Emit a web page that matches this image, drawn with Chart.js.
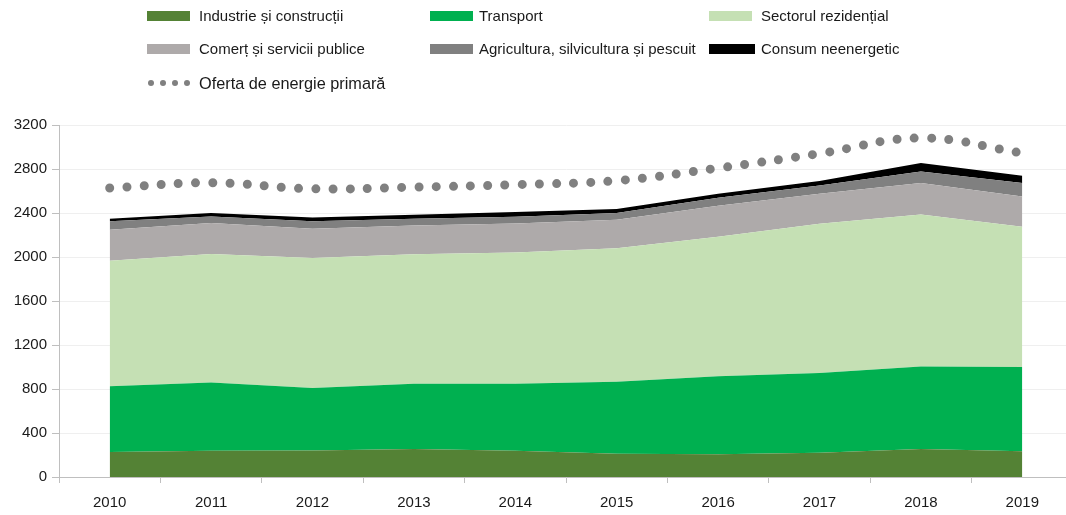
<!DOCTYPE html>
<html>
<head>
<meta charset="utf-8">
<script src="https://cdn.jsdelivr.net/npm/chart.js@4.4.1/dist/chart.umd.min.js"></script>
<style>
  html, body { margin: 0; padding: 0; background: #fff; overflow: hidden; }
  #wrap { position: relative; width: 1066px; height: 515px; overflow: hidden; }
  #chartBox { position: absolute; left: 0; top: 0; width: 1082px; height: 515px; }
  .leg { position: absolute; font-family: 'Liberation Sans', Arial, sans-serif; font-size: 15px; color: #1a1a1a; white-space: nowrap; line-height: 18px; height: 18px; }
  .sw { position: absolute; height: 10px; }
  .dot { position: absolute; width: 6px; height: 6px; border-radius: 50%; background: #808080; }
</style>
</head>
<body>
<div id="wrap">
  <div id="chartBox"><canvas id="energyChart" width="1082" height="515"></canvas></div>
  <div id="legend"></div>
</div>
<script>
// ===============================
// DATA (ktep)
// ===============================
const years = ['2010', '2011', '2012', '2013', '2014', '2015', '2016', '2017', '2018', '2019'];

const industrie   = [227, 239, 242, 254, 239, 212, 206, 221, 254, 233];
const transport   = [597, 621, 567, 594, 609, 654, 709, 724, 751, 767];
const rezidential = [1142, 1167, 1182, 1177, 1192, 1214, 1270, 1358, 1382, 1275];
const comert      = [282, 282, 266, 262, 265, 259, 281, 273, 286, 276];
const agricultura = [76, 60, 67, 61, 61, 61, 73, 75, 105, 122];
const neenergetic = [24, 31, 36, 37, 43, 36, 37, 39, 77, 66];
const oferta      = [2627, 2675, 2620, 2635, 2658, 2694, 2808, 2940, 3082, 2945];

const yTicks = [0, 400, 800, 1200, 1600, 2000, 2400, 2800, 3200];

const seriesNames = [
    'Industrie și construcții', 'Transport', 'Sectorul rezidențial',
    'Comerț și servicii publice', 'Agricultura, silvicultura și pescuit', 'Consum neenergetic'
];
const seriesColors = ['#548235', '#00b050', '#c5e0b4', '#aeaaaa', '#808080', '#000000'];
const ofertaName = 'Oferta de energie primară';

const FONT = "'Liberation Sans', Arial, sans-serif";

// ===============================
// CHART
// ===============================
const areaData = [industrie, transport, rezidential, comert, agricultura, neenergetic];

const datasets = areaData.map((vals, i) => ({
    label: seriesNames[i],
    data: vals,
    stack: 'consum',
    backgroundColor: seriesColors[i],
    borderColor: seriesColors[i],
    borderWidth: 0,
    pointRadius: 0,
    fill: i === 0 ? 'origin' : '-1',
    tension: 0
}));

datasets.push({
    label: ofertaName,
    data: oferta,
    stack: 'oferta',
    borderColor: '#808080',
    backgroundColor: '#808080',
    borderWidth: 9,
    borderDash: [0, 17.2],
    borderCapStyle: 'round',
    pointRadius: 0,
    fill: false,
    tension: 0.4
});

const ctx = document.getElementById('energyChart').getContext('2d');
const energyChart = new Chart(ctx, {
    type: 'line',
    data: { labels: years, datasets: datasets },
    options: {
        responsive: false,
        animation: false,
        layout: { padding: { top: 125, right: 9, left: 0, bottom: 0 } },
        plugins: { legend: { display: false }, tooltip: { enabled: false } },
        scales: {
            x: {
                offset: true,
                grid: { offset: true, drawOnChartArea: false, tickLength: 6, tickColor: '#bfbfbf' },
                border: { color: '#bfbfbf' },
                ticks: { color: '#1a1a1a', font: { family: FONT, size: 15 }, padding: 11, maxRotation: 0 },
                afterFit: s => { s.height = 38; }
            },
            y: {
                stacked: true,
                min: yTicks[0],
                max: yTicks[yTicks.length - 1],
                grid: { color: '#efefef', tickLength: 7, tickColor: '#bfbfbf' },
                border: { color: '#bfbfbf' },
                ticks: {
                    stepSize: yTicks[1] - yTicks[0],
                    color: '#1a1a1a',
                    font: { family: FONT, size: 15 },
                    padding: 5,
                    callback: v => String(v)
                },
                afterFit: s => { s.width = 59; }
            }
        }
    }
});

// ===============================
// LEGEND (HTML, grid like the original)
// ===============================
function buildLegend() {
    const legend = document.getElementById('legend');
    const colSwatch = [147, 430, 709];
    const colText = [199, 479, 761];
    const rowY = [16, 49, 83];
    seriesNames.forEach((name, i) => {
        const r = Math.floor(i / 3), c = i % 3;
        const sw = document.createElement('div');
        sw.className = 'sw';
        sw.style.left = colSwatch[c] + 'px';
        sw.style.top = (rowY[r] - 5) + 'px';
        sw.style.width = (i === 5 ? 46 : 43) + 'px';
        sw.style.background = seriesColors[i];
        legend.appendChild(sw);

        const t = document.createElement('div');
        t.className = 'leg';
        t.style.left = colText[c] + 'px';
        t.style.top = (rowY[r] - 9) + 'px';
        t.textContent = name;
        legend.appendChild(t);
    });
    // dotted line sample
    for (let k = 0; k < 4; k++) {
        const d = document.createElement('div');
        d.className = 'dot';
        d.style.left = (148 + k * 12) + 'px';
        d.style.top = (rowY[2] - 3) + 'px';
        legend.appendChild(d);
    }
    const t = document.createElement('div');
    t.className = 'leg';
    t.style.left = colText[0] + 'px';
    t.style.top = (rowY[2] - 9) + 'px';
    t.style.fontSize = '16.3px';
    t.textContent = ofertaName;
    legend.appendChild(t);
}
buildLegend();
</script>
</body>
</html>
